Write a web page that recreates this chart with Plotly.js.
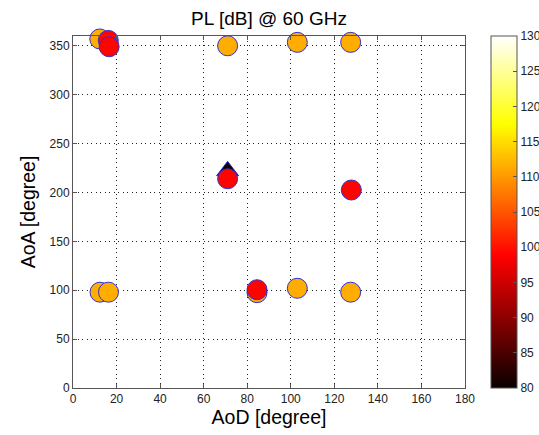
<!DOCTYPE html>
<html>
<head>
<meta charset="utf-8">
<script src="https://cdn.plot.ly/plotly-3.0.1.min.js"></script>
<style>
  html, body { margin: 0; padding: 0; background: #fff; }
  #chart { width: 539px; height: 435px; }
</style>
</head>
<body>
<div id="chart"></div>
<script>
// Circle markers (drawn in this order; later ones on top)
const aod = [12.3, 16.2, 16.6, 71, 103, 127.5, 71, 127.8, 12.4, 16.3, 84.5, 84.5, 103, 127.5];
const aoa = [357, 355.5, 349, 350, 353.5, 353.5, 214, 202.5, 98, 98, 97.5, 100.5, 102, 98];
const pl  = [111.5, 99, 99, 111.5, 111.5, 111.5, 99, 99, 111.5, 111.5, 111.5, 99, 111.5, 111.5];

// Triangle marker
const triAod = [71];
const triAoa = [222];
const triPl  = [80];

const xTicks = [0, 20, 40, 60, 80, 100, 120, 140, 160, 180];
const yTicks = [0, 50, 100, 150, 200, 250, 300, 350];
const cbTicks = [80, 85, 90, 95, 100, 105, 110, 115, 120, 125, 130];

const hot = [
  [0, 'rgb(10,0,0)'],
  [0.375, 'rgb(255,0,0)'],
  [0.75, 'rgb(255,255,0)'],
  [1, 'rgb(255,255,255)']
];

const font = 'Liberation Sans, Arial, sans-serif';

const triTrace = {
  type: 'scatter', mode: 'markers',
  x: triAod, y: triAoa,
  cliponaxis: false,
  marker: {
    symbol: 'triangle-up', size: 19,
    color: triPl, cmin: 80, cmax: 130, colorscale: hot, showscale: false,
    line: { color: '#2020c0', width: 1 }
  },
  hoverinfo: 'skip', showlegend: false
};

const circTrace = {
  type: 'scatter', mode: 'markers',
  x: aod, y: aoa,
  cliponaxis: false,
  marker: {
    symbol: 'circle', size: 20,
    color: pl, cmin: 80, cmax: 130, colorscale: hot,
    line: { color: '#3030d0', width: 1 },
    showscale: true,
    colorbar: {
      x: 1.066, xanchor: 'left', xpad: 0,
      y: 0.5, yanchor: 'middle', len: 1, lenmode: 'fraction', ypad: 0,
      thickness: 26, thicknessmode: 'pixels',
      outlinecolor: '#555', outlinewidth: 1,
      tickmode: 'array', tickvals: cbTicks, ticktext: cbTicks.map(String),
      ticks: 'inside', ticklen: 4, tickcolor: '#555',
      tickfont: { family: font, size: 12, color: '#222' }
    }
  },
  showlegend: false
};

const layout = {
  width: 539, height: 435,
  margin: { l: 73, r: 74, t: 36, b: 46.5, autoexpand: false },
  paper_bgcolor: '#fff', plot_bgcolor: '#fff',
  title: {
    text: 'PL [dB] @ 60 GHz',
    font: { family: font, size: 19, color: '#000' },
    x: 0.5, xref: 'paper', xanchor: 'center',
    y: 0.957, yref: 'container', yanchor: 'middle'
  },
  xaxis: {
    range: [0, 180], autorange: false,
    tickmode: 'array', tickvals: xTicks, ticktext: xTicks.map(String),
    ticks: 'inside', ticklen: 4, tickcolor: '#555',
    showline: true, linecolor: '#555', linewidth: 1, mirror: 'ticks',
    showgrid: true, gridcolor: '#222', griddash: '1px,3.5px', gridwidth: 1,
    zeroline: false,
    tickfont: { family: font, size: 12, color: '#222' },
    title: { text: 'AoD [degree]', font: { family: font, size: 19.5, color: '#000' }, standoff: 3 }
  },
  yaxis: {
    range: [0, 360], autorange: false,
    tickmode: 'array', tickvals: yTicks, ticktext: yTicks.map(String),
    ticks: 'inside', ticklen: 4, tickcolor: '#555',
    showline: true, linecolor: '#555', linewidth: 1, mirror: 'ticks',
    showgrid: true, gridcolor: '#222', griddash: '1px,3.5px', gridwidth: 1,
    zeroline: false,
    tickfont: { family: font, size: 12, color: '#222' },
    title: { text: 'AoA [degree]', font: { family: font, size: 19.5, color: '#000' }, standoff: 8 }
  }
};

Plotly.newPlot('chart', [triTrace, circTrace], layout, { displayModeBar: false, staticPlot: true });
</script>
</body>
</html>
